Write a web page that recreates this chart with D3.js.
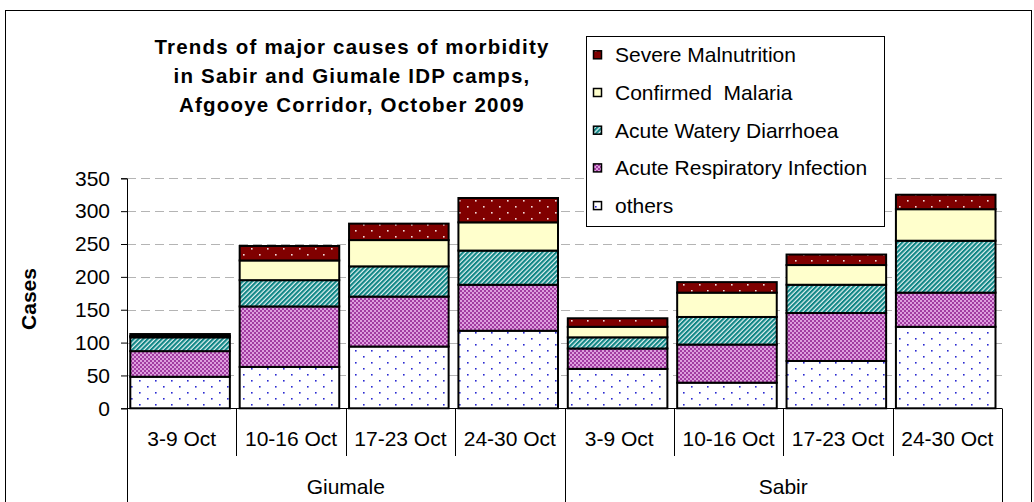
<!DOCTYPE html>
<html><head><meta charset="utf-8">
<script src="https://cdn.jsdelivr.net/npm/d3@7"></script>
<style>
html,body{margin:0;padding:0;background:#fff;}
svg{display:block;font-family:"Liberation Sans",Arial,sans-serif;}
text{white-space:pre;}
</style></head>
<body><svg id="c" width="1034" height="502"></svg>
<script>
const weeks = ["3-9 Oct","10-16 Oct","17-23 Oct","24-30 Oct"];
const camps = ["Giumale","Sabir"];
const others  = [48, 63, 94, 118, 60, 39, 72, 124];
const ari     = [39, 92, 76, 70, 31, 58, 73, 52];
const awd     = [21, 40, 46, 52, 17, 42, 43, 79];
const malaria = [2, 30, 40, 43, 16, 37, 30, 48];
const sm      = [3, 22, 25, 37, 13, 16, 16, 22];
const seriesNames = ["others","Acute Respiratory Infection","Acute Watery Diarrhoea","Confirmed  Malaria","Severe Malnutrition"];
const yTicks = [0,50,100,150,200,250,300,350];
const titleLines = ["Trends of major causes of morbidity","in Sabir and Giumale IDP camps,","Afgooye Corridor, October 2009"];
const yTitle = "Cases";

const svg = d3.select("#c");
const defs = svg.append("defs");

// patterns
function dots(id, bg, fg){
  const p = defs.append("pattern").attr("id",id).attr("patternUnits","userSpaceOnUse").attr("width",16).attr("height",12);
  p.append("rect").attr("width",16).attr("height",12).attr("fill",bg);
  [[3,2],[11,8]].forEach(([x,y])=>p.append("rect").attr("x",x).attr("y",y).attr("width",1.6).attr("height",1.6).attr("fill",fg));
}
dots("pOthers","#ffffff","#2a2ad2");
dots("pSM","#800000","#f4dede");
{
  const p = defs.append("pattern").attr("id","pARI").attr("patternUnits","userSpaceOnUse").attr("width",4).attr("height",4);
  p.append("rect").attr("width",4).attr("height",4).attr("fill","#a23ca2");
  p.append("rect").attr("x",0).attr("y",0).attr("width",2).attr("height",2).attr("fill","#de9ede");
  p.append("rect").attr("x",2).attr("y",2).attr("width",2).attr("height",2).attr("fill","#de9ede");
}
{
  const p = defs.append("pattern").attr("id","pAWD").attr("patternUnits","userSpaceOnUse").attr("width",3.3).attr("height",10).attr("patternTransform","rotate(45)");
  p.append("rect").attr("width",3.3).attr("height",10).attr("fill","#0f8585");
  p.append("rect").attr("x",2.1).attr("width",1.2).attr("height",10).attr("fill","#e6f4f4");
}
const fills = ["url(#pOthers)","url(#pARI)","url(#pAWD)","#ffffcc","url(#pSM)"];

// outer border
svg.append("rect").attr("x",5.5).attr("y",10.5).attr("width",1026).attr("height",520)
  .attr("fill","#fff").attr("stroke","#000").attr("stroke-width",1);

const left = 127, right = 1002;
const keys = d3.range(8);
const x = d3.scaleBand().domain(keys).range([left,right]).padding(0);
const y = d3.scaleLinear().domain([0,350]).range([408.3,178.3]);

// gridlines
svg.append("g").selectAll("line").data(yTicks.filter(t=>t>0)).join("line")
  .attr("x1",left).attr("x2",right).attr("y1",d=>Math.round(y(d))+0.5).attr("y2",d=>Math.round(y(d))+0.5)
  .attr("stroke","#b4b4b4").attr("stroke-dasharray","9,5");

// y axis
const yAxis = svg.append("g").attr("transform",`translate(${left},0)`)
  .call(d3.axisLeft(y).tickValues(yTicks).tickSize(6).tickPadding(11).tickFormat(d3.format("d")));
yAxis.selectAll("text").attr("font-size",21).attr("fill","#000").attr("font-family","'Liberation Sans',Arial,sans-serif");
yAxis.select(".domain").attr("stroke","#000");
yAxis.selectAll(".tick line").attr("stroke","#000");

// stacked bars
const rows = keys.map(i=>({i, others:others[i], ari:ari[i], awd:awd[i], malaria:malaria[i], sm:sm[i]}));
const stack = d3.stack().keys(["others","ari","awd","malaria","sm"])(rows);
const bw = x.bandwidth();
svg.append("g").selectAll("g").data(stack).join("g")
  .attr("fill",(d,i)=>fills[i])
  .selectAll("rect").data(d=>d).join("rect")
  .attr("x",d=>x(d.data.i)+3.3).attr("width",bw-9.8)
  .attr("y",d=>y(d[1])).attr("height",d=>y(d[0])-y(d[1]))
  .attr("stroke","#000").attr("stroke-width",2);

// x axis line
svg.append("line").attr("x1",left).attr("x2",right).attr("y1",408.5).attr("y2",408.5).attr("stroke","#000");

// category separators
const bounds = d3.range(9).map(i => i<8 ? x(i) : x(7)+bw);
svg.append("g").selectAll("line").data(bounds).join("line")
  .attr("x1",d=>Math.round(d)+0.5).attr("x2",d=>Math.round(d)+0.5)
  .attr("y1",408.5).attr("y2",(d,i)=> (i%4===0) ? 520 : 456)
  .attr("stroke","#000");

// category labels
const catAxis = svg.append("g").attr("transform","translate(0,408)")
  .call(d3.axisBottom(x).tickSize(0).tickPadding(0).tickFormat(i=>weeks[i%4]));
catAxis.select(".domain").remove();
catAxis.selectAll("text").attr("font-size",21).attr("fill","#000").attr("dy",null).attr("y",38)
  .attr("font-family","'Liberation Sans',Arial,sans-serif");

// group labels
svg.append("g").selectAll("text").data(camps).join("text")
  .attr("x",(d,i)=>(x(i*4)+x(i*4+3)+bw)/2).attr("y",494)
  .attr("text-anchor","middle").attr("font-size",21).text(d=>d);

// y title
svg.append("text").attr("transform","translate(36,299) rotate(-90)")
  .attr("text-anchor","middle").attr("font-size",21).attr("font-weight","bold").text(yTitle);

// title
svg.append("g").selectAll("text").data(titleLines).join("text")
  .attr("x",352).attr("y",(d,i)=>54+i*28.8)
  .attr("text-anchor","middle").attr("font-size",20.5).attr("font-weight","bold")
  .attr("letter-spacing","1.2px").text(d=>d);

// legend
const lg = svg.append("g");
lg.append("rect").attr("x",586.5).attr("y",36.5).attr("width",298).attr("height",190)
  .attr("fill","#fff").attr("stroke","#000");
const legOrder = [4,3,2,1,0];
legOrder.forEach((si,j)=>{
  const by = 62.3 + j*37.7;
  lg.append("rect").attr("x",593.5).attr("y",by-11.5).attr("width",8).attr("height",8)
    .attr("fill",fills[si]).attr("stroke","#000").attr("stroke-width",1.5);
  lg.append("text").attr("x",615).attr("y",by).attr("font-size",21).text(seriesNames[si]);
});
</script></body></html>
